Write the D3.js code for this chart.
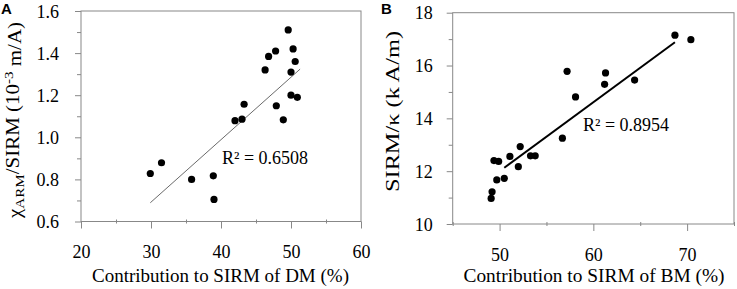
<!DOCTYPE html>
<html>
<head>
<meta charset="utf-8">
<script src="https://cdn.jsdelivr.net/npm/d3@7"></script>
<style>
  body { margin: 0; background: #fff; }
  svg text { fill: #000; }
</style>
</head>
<body>
<div id="chart"></div>
<script>
// Panel A: contribution of DM vs chiARM/SIRM
var dmContribution = [49.6, 50.3, 47.8, 46.8, 50.6, 46.3, 50.0, 50.0, 50.9, 43.3,
                      47.9, 42.0, 43.0, 48.9, 31.5, 29.9, 35.8, 38.9, 39.0];
var armRatio = [1.51, 1.42, 1.41, 1.384, 1.36, 1.32, 1.31, 1.20, 1.19, 1.157,
                1.15, 1.079, 1.086, 1.083, 0.879, 0.828, 0.80, 0.817, 0.705];
var trendA = [[29.9, 0.689], [51.3, 1.324]];
var xTicksA = [20, 30, 40, 50, 60];
var yTicksA = [0.6, 0.8, 1.0, 1.2, 1.4, 1.6];
var r2A = "R\u00B2 = 0.6508";

// Panel B: contribution of BM vs SIRM/kappa
var bmContribution = [68.7, 70.4, 57.2, 61.3, 61.2, 64.4, 58.1, 56.7, 52.2, 49.4,
                      49.9, 51.1, 52.0, 53.3, 53.8, 49.7, 50.5, 49.2, 49.1];
var sirmKappa = [17.15, 16.98, 15.78, 15.72, 15.29, 15.45, 14.81, 13.25, 12.93, 12.40,
                 12.37, 12.56, 12.17, 12.58, 12.58, 11.67, 11.73, 11.22, 10.97];
var trendB = [[50.5, 12.13], [68.7, 16.88]];
var xTicksB = [50, 60, 70];
var yTicksB = [10, 12, 14, 16, 18];
var r2B = "R\u00B2 = 0.8954";

var svgWidth = 737;
var svgHeight = 289;
var frameColor = "#888";
var serif = '"Liberation Serif", "Times New Roman", Times, serif';

var svg = d3.select("#chart")
  .append("svg")
  .attr("width", svgWidth)
  .attr("height", svgHeight);

function drawPanel(p) {
  var x = d3.scaleLinear().domain(p.xDomain).range([p.left, p.right]);
  var y = d3.scaleLinear().domain(p.yDomain).range([p.bottom, p.top]);
  var g = svg.append("g");

  // plot frame
  g.append("rect")
    .attr("x", p.left).attr("y", p.top)
    .attr("width", p.right - p.left).attr("height", p.bottom - p.top)
    .attr("fill", "none").attr("stroke", frameColor);

  // minor ticks
  var xMinor = g.append("g")
    .attr("transform", `translate(0, ${p.bottom})`)
    .call(d3.axisBottom(x).tickValues(p.xMinor).tickSize(3).tickFormat(""));
  xMinor.selectAll("line").attr("y1", -2).attr("y2", 2);
  var yMinor = g.append("g")
    .attr("transform", `translate(${p.left}, 0)`)
    .call(d3.axisLeft(y).tickValues(p.yMinor).tickSize(4).tickFormat(""));

  // major ticks + labels
  var xAxis = g.append("g")
    .attr("transform", `translate(0, ${p.bottom})`)
    .call(d3.axisBottom(x).tickValues(p.xTicks).tickSize(7).tickFormat(d3.format("d")));
  xAxis.selectAll("text")
    .attr("y", p.xLabelOffset).attr("dy", null)
    .style("font-family", serif)
    .style("font-size", "18px");

  var yAxis = g.append("g")
    .attr("transform", `translate(${p.left}, 0)`)
    .call(d3.axisLeft(y).tickValues(p.yTicks).tickSize(6).tickFormat(p.yFormat));
  yAxis.selectAll("text")
    .attr("x", p.yLabelOffset).attr("dy", "0.34em")
    .style("font-family", serif)
    .style("font-size", "18px");

  [xMinor, yMinor, xAxis, yAxis].forEach(function(a) {
    a.select(".domain").remove();
    a.selectAll("line").attr("stroke", frameColor);
  });

  // trend line
  g.append("line")
    .attr("x1", x(p.trend[0][0])).attr("y1", y(p.trend[0][1]))
    .attr("x2", x(p.trend[1][0])).attr("y2", y(p.trend[1][1]))
    .attr("stroke", p.trendColor)
    .attr("stroke-width", p.trendWidth);

  // points
  g.selectAll("circle")
    .data(p.xs)
    .enter()
    .append("circle")
    .attr("cx", d => x(d))
    .attr("cy", (d, i) => y(p.ys[i]))
    .attr("r", 3.6)
    .attr("fill", "#000");

  // R squared
  g.append("text")
    .attr("x", p.r2Pos[0]).attr("y", p.r2Pos[1])
    .style("font-family", serif)
    .style("font-size", "18px")
    .text(p.r2);

  // x title
  g.append("text")
    .attr("x", p.xTitlePos[0]).attr("y", p.xTitlePos[1])
    .attr("text-anchor", "middle")
    .attr("textLength", p.xTitleLen)
    .attr("lengthAdjust", "spacingAndGlyphs")
    .style("font-family", serif)
    .style("font-size", "18px")
    .text(p.xTitle);

  // y title
  var yt = g.append("text")
    .attr("transform", `translate(${p.yTitlePos[0]}, ${p.yTitlePos[1]}) rotate(-90)`)
    .attr("text-anchor", "middle")
    .attr("textLength", p.yTitleLen)
    .attr("lengthAdjust", "spacingAndGlyphs")
    .style("font-family", serif)
    .style("font-size", "18px");
  p.yTitle(yt);

  // panel letter
  g.append("text")
    .attr("x", p.letterPos[0]).attr("y", p.letterPos[1])
    .style("font-family", '"Liberation Sans", Arial, sans-serif')
    .style("font-weight", "bold")
    .style("font-size", "15px")
    .text(p.letter);
}

drawPanel({
  letter: "A", letterPos: [1, 14],
  xDomain: [20, 60], yDomain: [0.6, 1.6],
  left: 81, right: 361, top: 11, bottom: 221.5,
  xTicks: xTicksA, yTicks: yTicksA,
  xMinor: d3.range(25, 60, 10), yMinor: d3.range(0.7, 1.6, 0.2),
  yFormat: d3.format(".1f"),
  xLabelOffset: 36, yLabelOffset: -22,
  xs: dmContribution, ys: armRatio,
  trend: trendA, trendColor: "#6a6a6a", trendWidth: 1,
  r2: r2A, r2Pos: [222, 164],
  xTitle: "Contribution to SIRM of DM (%)", xTitlePos: [220.5, 281.5], xTitleLen: 257,
  yTitlePos: [20.5, 120], yTitleLen: 196,
  yTitle: function(t) {
    t.append("tspan").text("\u03C7");
    t.append("tspan").attr("dy", "0.3em").style("font-size", "13px").text("ARM");
    t.append("tspan").attr("dy", "-0.3em").text("/SIRM (10");
    t.append("tspan").attr("dy", "-0.45em").style("font-size", "13px").text("-3");
    t.append("tspan").attr("dy", "0.45em").text(" m/A)");
  }
});

drawPanel({
  letter: "B", letterPos: [381, 14],
  xDomain: [45, 75], yDomain: [10, 18],
  left: 452.7, right: 734, top: 12.7, bottom: 224,
  xTicks: xTicksB, yTicks: yTicksB,
  xMinor: [45, 55, 65, 75], yMinor: [11, 13, 15, 17],
  yFormat: d3.format("d"),
  xLabelOffset: 36.7, yLabelOffset: -20,
  xs: bmContribution, ys: sirmKappa,
  trend: trendB, trendColor: "#000", trendWidth: 2,
  r2: r2B, r2Pos: [583, 131],
  xTitle: "Contribution to SIRM of BM (%)", xTitlePos: [594, 281.5], xTitleLen: 261,
  yTitlePos: [398.5, 111.5], yTitleLen: 161,
  yTitle: function(t) {
    t.text("SIRM/\u03BA (k A/m)");
  }
});
</script>
</body>
</html>
